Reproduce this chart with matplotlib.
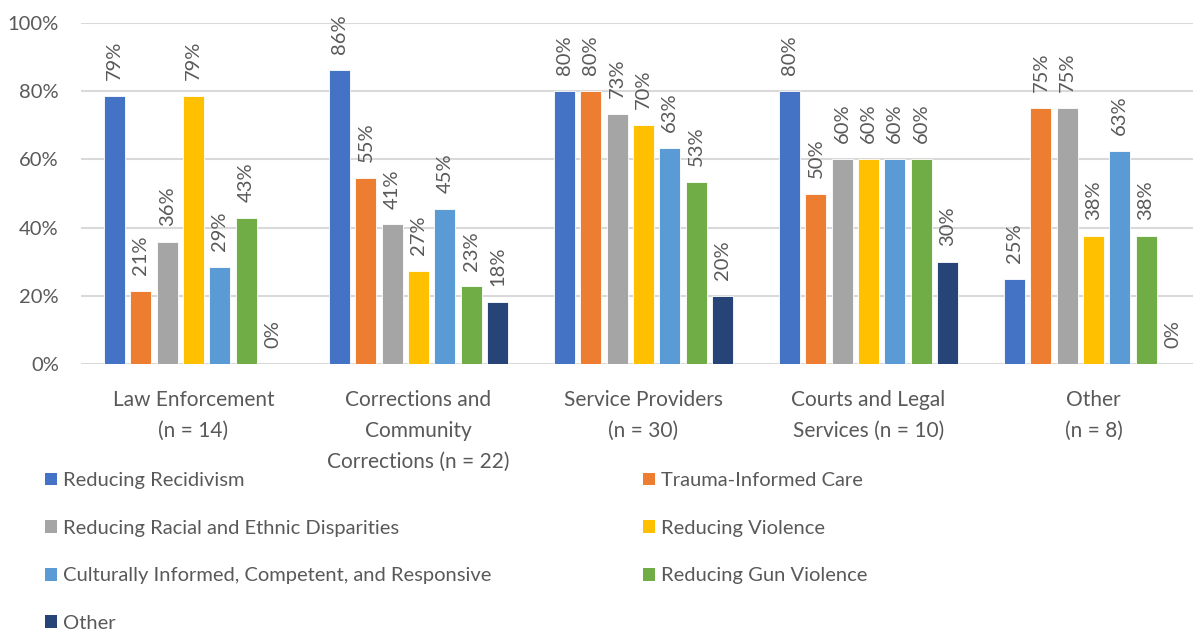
import matplotlib
matplotlib.use("Agg")
import matplotlib.pyplot as plt
from matplotlib.patches import Patch
import numpy as np

categories = ["Law Enforcement\n(n = 14)",
              "Corrections and\nCommunity\nCorrections (n = 22)",
              "Service Providers\n(n = 30)",
              "Courts and Legal\nServices (n = 10)",
              "Other\n(n = 8)"]
series = ["Reducing Recidivism", "Trauma-Informed Care",
          "Reducing Racial and Ethnic Disparities", "Reducing Violence",
          "Culturally Informed, Competent, and Responsive",
          "Reducing Gun Violence", "Other"]
colors = ["#4472C4", "#ED7D31", "#A5A5A5", "#FFC000", "#5B9BD5", "#70AD47", "#264478"]

reducing_recidivism = [78.57, 86.36, 80.0, 80.0, 25.0]
trauma_informed = [21.43, 54.55, 80.0, 50.0, 75.0]
racial_ethnic = [35.71, 40.91, 73.33, 60.0, 75.0]
reducing_violence = [78.57, 27.27, 70.0, 60.0, 37.5]
culturally_informed = [28.57, 45.45, 63.33, 60.0, 62.5]
gun_violence = [42.86, 22.73, 53.33, 60.0, 37.5]
other = [0.0, 18.18, 20.0, 30.0, 0.0]
values = [reducing_recidivism, trauma_informed, racial_ethnic, reducing_violence,
          culturally_informed, gun_violence, other]

yticks = [0, 20, 40, 60, 80, 100]
ytick_labels = ["0%", "20%", "40%", "60%", "80%", "100%"]

FONT = "Lato"
TXT = "#595959"
plt.rcParams['font.family'] = [FONT, 'DejaVu Sans']

W, H = 1193, 635
fig = plt.figure(figsize=(W / 100, H / 100), dpi=100)
ax = fig.add_axes([81 / W, 1 - 364 / H, 1 - 81 / W, (364 - 23) / H])

x = np.arange(len(categories))
step = 26.3 / 225
width = 21 / 225
for i, (vals, c) in enumerate(zip(values, colors)):
    pos = x + (i - 3) * step
    ax.bar(pos, vals, width=width, color=c, edgecolor="white", linewidth=0.6, zorder=3)
    for px, v in zip(pos, vals):
        ax.annotate(f"{int(v + 0.5)}%", (px, v), xytext=(0, 11.5), textcoords="offset points",
                    rotation=90, ha="center", va="bottom", fontsize=14.5, color=TXT)

ax.set_xlim(-0.5, 4.5 - 13 / 225)
ax.set_ylim(0, 100)
ax.set_yticks(yticks)
ax.set_yticklabels(ytick_labels)
ax.set_xticks(x)
ax.set_xticklabels(categories, linespacing=1.69)
ax.tick_params(axis="both", length=0, labelsize=14.5, labelcolor=TXT)
ax.tick_params(axis="x", pad=18.5, labelsize=15)
ax.tick_params(axis="y", pad=16)
for lab in ax.get_yticklabels():
    lab.set_horizontalalignment("right")
ax.grid(axis="y", color="#D9D9D9", linewidth=1.5, zorder=0)
for s in ax.spines.values():
    s.set_visible(False)

handles = [Patch(facecolor=c, edgecolor="none") for c in colors]
order = [0, 2, 4, 6, 1, 3, 5]
fig.legend([handles[i] for i in order], [series[i] for i in order],
           loc="upper left", bbox_to_anchor=(45 / W, 1 - 472 / H), ncol=2,
           frameon=False, fontsize=14.5, labelcolor=TXT,
           handlelength=0.6, handleheight=0.6, handletextpad=0.3,
           columnspacing=7.5, labelspacing=1.52, borderpad=0, borderaxespad=0)

fig.savefig("out.png", dpi=100)
